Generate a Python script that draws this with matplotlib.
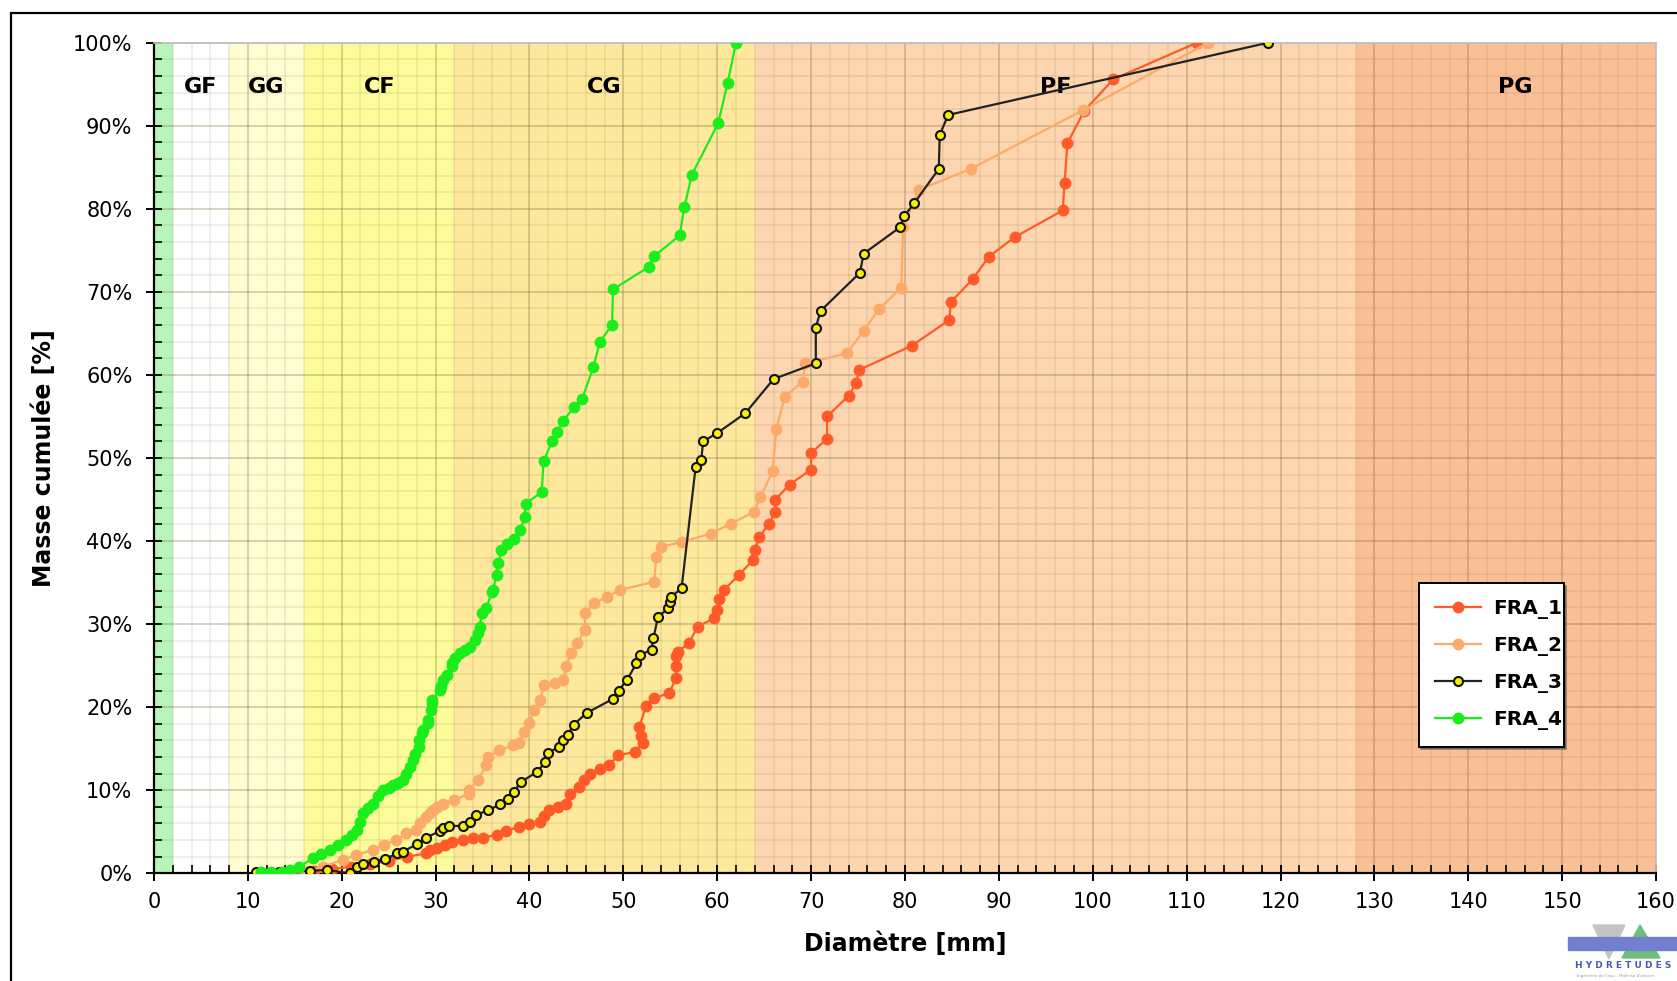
import matplotlib
matplotlib.use("Agg")
import matplotlib.pyplot as plt
import matplotlib.patches as mpatches
from matplotlib.ticker import MultipleLocator, FuncFormatter

# ---------------------------------------------------------------
# DATA  (diameter in mm, cumulated mass in %)
# ---------------------------------------------------------------
fra1_d = [15.6, 17.0, 19.0, 21.0, 23.0, 25.0, 27.0, 29.0, 29.4, 30.2, 31.0, 31.7, 32.9, 34.0,
          35.0, 36.5, 37.5, 38.9, 40.0, 41.1, 41.6, 42.1, 43.0, 43.9, 44.3, 45.3, 45.8, 46.4,
          47.5, 48.5, 49.4, 51.2, 52.1, 51.9, 51.7, 52.4, 53.3, 54.9, 55.6, 55.6, 55.6, 55.8,
          57.0, 57.9, 59.7, 60.0, 60.2, 60.7, 62.3, 63.8, 64.0, 64.5, 65.5, 66.2, 66.2, 67.7,
          70.0, 70.0, 71.7, 71.7, 74.0, 74.8, 75.1, 80.7, 84.7, 84.9, 87.2, 88.9, 91.7, 96.8,
          97.0, 97.3, 99.1, 102.2, 111.1]
fra1_m = [0.0, 0.3, 0.5, 0.8, 1.1, 1.5, 2.0, 2.4, 2.8, 3.0, 3.4, 3.8, 4.0, 4.2,
          4.3, 4.6, 5.1, 5.6, 5.9, 6.2, 6.9, 7.6, 8.0, 8.4, 9.6, 10.4, 11.2, 12.0,
          12.6, 13.0, 14.2, 14.6, 15.7, 16.5, 17.6, 20.1, 21.1, 21.7, 23.5, 25.0, 26.1, 26.7,
          27.7, 29.7, 30.7, 31.7, 33.0, 34.1, 35.9, 37.7, 38.9, 40.5, 42.1, 43.5, 45.0, 46.8,
          48.6, 50.6, 52.3, 55.0, 57.5, 59.0, 60.6, 63.5, 66.6, 68.8, 71.5, 74.2, 76.6, 79.8,
          83.1, 87.9, 91.8, 95.6, 100.0]

fra2_d = [16.2, 18.0, 20.1, 21.5, 23.3, 24.5, 25.8, 26.9, 27.9, 28.3, 29.0, 29.4, 29.7, 30.1,
          30.8, 32.0, 33.6, 33.6, 34.5, 35.4, 35.6, 36.8, 38.2, 38.9, 39.4, 40.0, 40.5, 41.1,
          41.6, 42.7, 43.6, 43.9, 44.4, 45.1, 45.9, 45.9, 46.9, 48.3, 49.6, 53.3, 53.5, 54.0,
          56.3, 59.3, 61.5, 63.9, 64.6, 65.9, 66.3, 67.2, 69.1, 69.4, 73.8, 75.6, 77.2, 79.6,
          79.8, 81.5, 87.0, 99.0, 112.3]
fra2_m = [0.2, 0.8, 1.6, 2.2, 2.8, 3.4, 4.0, 4.8, 5.2, 6.0, 6.8, 7.2, 7.6, 8.0,
          8.4, 8.8, 9.6, 10.0, 11.2, 13.0, 14.0, 14.8, 15.4, 15.7, 17.0, 18.1, 19.7, 20.9,
          22.7, 22.9, 23.3, 24.9, 26.5, 27.7, 29.3, 31.3, 32.5, 33.3, 34.1, 35.1, 38.1, 39.3,
          39.9, 40.9, 42.1, 43.5, 45.3, 48.4, 53.5, 57.4, 59.2, 61.4, 62.6, 65.3, 67.9, 70.5,
          77.8, 82.3, 84.8, 91.9, 100.0]

fra3_d = [10.9, 13.3, 16.6, 18.4, 20.9, 21.6, 22.3, 23.4, 24.6, 25.9, 26.5, 28.0, 29.0, 30.5,
          30.8, 31.4, 32.9, 33.7, 34.3, 35.6, 36.9, 37.7, 38.3, 39.1, 40.8, 41.7, 42.0, 43.1,
          43.6, 44.1, 44.7, 46.1, 48.9, 49.5, 50.4, 51.4, 51.8, 53.0, 53.2, 53.7, 54.8, 55.0,
          55.1, 56.2, 57.7, 58.3, 58.5, 60.0, 63.0, 66.0, 70.5, 70.5, 71.0, 75.2, 75.6, 79.5,
          79.9, 81.0, 83.6, 83.7, 84.6, 118.7]
fra3_m = [0.2, 0.2, 0.3, 0.4, 0.0, 0.8, 1.1, 1.4, 1.7, 2.4, 2.6, 3.5, 4.3, 5.1,
          5.4, 5.7, 5.7, 6.2, 7.0, 7.6, 8.3, 9.0, 9.8, 11.0, 12.2, 13.4, 14.5, 15.2,
          16.0, 16.7, 17.9, 19.3, 21.0, 22.0, 23.3, 25.3, 26.3, 26.9, 28.3, 30.9, 31.9, 32.7,
          33.3, 34.3, 48.9, 49.8, 52.0, 53.0, 55.4, 59.5, 61.4, 65.7, 67.7, 72.3, 74.6, 77.8,
          79.1, 80.7, 84.8, 88.9, 91.3, 100.0]

fra4_d = [11.4, 12.5, 13.6, 14.5, 15.5, 16.9, 17.8, 18.7, 19.6, 20.5, 21.1, 21.6, 22.0, 22.3,
          22.8, 23.3, 23.9, 24.4, 25.0, 25.5, 26.0, 26.5, 26.9, 27.3, 27.6, 27.8, 28.2, 28.2,
          28.5, 28.7, 29.2, 29.2, 29.5, 29.6, 29.6, 30.5, 30.6, 30.8, 31.2, 31.7, 31.7, 32.1,
          32.6, 33.1, 33.7, 34.2, 34.5, 34.7, 34.9, 35.4, 36.0, 36.1, 36.5, 36.7, 37.0, 37.6,
          38.3, 39.0, 39.5, 39.6, 41.3, 41.5, 42.4, 42.9, 43.6, 44.7, 45.6, 46.8, 47.5, 48.8,
          48.9, 52.7, 53.3, 56.0, 56.5, 57.3, 60.1, 61.1, 62.0]
fra4_m = [0.1, 0.2, 0.1, 0.4, 0.8, 1.8, 2.3, 2.8, 3.4, 4.0, 4.6, 5.2, 6.2, 7.2,
          7.8, 8.4, 9.3, 10.0, 10.3, 10.6, 10.9, 11.2, 12.0, 12.8, 13.6, 14.4, 15.2, 16.0,
          16.9, 17.3, 18.1, 18.5, 19.7, 20.5, 20.9, 22.1, 22.5, 23.3, 23.9, 24.9, 25.3, 25.9,
          26.5, 26.9, 27.3, 28.1, 28.9, 29.7, 31.3, 31.9, 33.9, 34.1, 35.9, 37.3, 38.9, 39.6,
          40.3, 41.3, 42.9, 44.5, 45.9, 49.6, 52.0, 53.1, 54.4, 56.1, 57.1, 60.9, 64.0, 66.0,
          70.3, 73.0, 74.3, 76.8, 80.2, 84.1, 90.3, 95.1, 100.0]

# grain size classes
class_names = ["", "GF", "GG", "CF", "CG", "PF", "PG"]
class_lo = [0, 2, 8, 16, 32, 64, 128]
class_hi = [2, 8, 16, 32, 64, 128, 256]
class_colors = ["#b9f5b9", "#ffffff", "#fffdd2", "#fdfc9b", "#fde89c", "#fdd5ae", "#fbbf96"]
class_label_x = [1, 5, 12, 24, 48, 96, 145]

# ---------------------------------------------------------------
# FIGURE
# ---------------------------------------------------------------
plt.rcParams["font.family"] = ["DejaVu Sans"]

fig = plt.figure(figsize=(16.77, 9.81), dpi=100)
ax = fig.add_axes([0.0918, 0.1098, 0.8957, 0.8467])

for name, lo, hi, col, lx in zip(class_names, class_lo, class_hi, class_colors, class_label_x):
    ax.axvspan(lo, hi, color=col, zorder=0, lw=0)
    if name:
        ax.text(lx, 94.7, name, ha="center", va="center", fontsize=16,
                fontweight="bold", zorder=2)

ax.plot(fra1_d, fra1_m, color="#ff5a28", lw=1.6, marker="o", ms=7.5,
        mec="#ff5a28", label="FRA_1", zorder=3)
ax.plot(fra2_d, fra2_m, color="#fcaa6a", lw=1.6, marker="o", ms=7.5,
        mec="#fcaa6a", label="FRA_2", zorder=3)
ax.plot(fra3_d, fra3_m, color="#222222", lw=1.6, marker="o", ms=6.5,
        mfc="#f5f000", mec="#111111", mew=1.5, label="FRA_3", zorder=4)
ax.plot(fra4_d, fra4_m, color="#1aee1a", lw=1.6, marker="o", ms=7.5,
        mec="#1aee1a", label="FRA_4", zorder=5)

ax.set_xlim(0, 160)
ax.set_ylim(0, 100)
ax.xaxis.set_major_locator(MultipleLocator(10))
ax.xaxis.set_minor_locator(MultipleLocator(2))
ax.yaxis.set_major_locator(MultipleLocator(10))
ax.yaxis.set_minor_locator(MultipleLocator(2))
ax.yaxis.set_major_formatter(FuncFormatter(lambda v, p: f"{v:.0f}%"))

ax.set_axisbelow("line")
ax.grid(which="minor", color="#8a7a50", alpha=0.15, lw=1.2)
ax.grid(which="major", color="#7a6a40", alpha=0.32, lw=1.3)

ax.tick_params(which="major", direction="inout", length=11, width=1.4,
               labelsize=15)
ax.tick_params(axis="y", which="major", pad=10)
ax.tick_params(axis="x", which="major", pad=8)
ax.tick_params(which="minor", direction="in", length=6, width=1.2)

for s in ["left", "bottom"]:
    ax.spines[s].set_linewidth(1.6)
for s in ["top", "right"]:
    ax.spines[s].set_color("#c0c0c0")
    ax.spines[s].set_linewidth(1.3)

ax.set_xlabel("Diamètre [mm]", fontsize=17, fontweight="bold", labelpad=14)
ax.set_ylabel("Masse cumulée [%]", fontsize=17, fontweight="bold", labelpad=12)

leg = ax.legend(loc="upper left", bbox_to_anchor=(0.842, 0.0, 0.0965, 0.3495),
                mode="expand", frameon=True, fancybox=False, shadow=True,
                edgecolor="black", facecolor="white", framealpha=1,
                prop={"weight": "bold", "size": 14.5}, handlelength=2.3,
                handletextpad=0.6, labelspacing=0.85, borderpad=0.8,
                borderaxespad=0, numpoints=1)
leg.get_frame().set_linewidth(1.4)
leg.set_zorder(10)

# outer chart border (top + left visible in the reference)
fig.patches.append(mpatches.Rectangle((11 / 1677, -0.2), 1.2, 1.2 - 13 / 981,
                                      transform=fig.transFigure, fill=False,
                                      edgecolor="black", lw=1.6))

# small company logo, bottom right (coordinates in pixels of the logo box)
lg = fig.add_axes([1565 / 1677, 0, 112 / 1677, 58 / 981])
lg.set_xlim(0, 112)
lg.set_ylim(0, 58)
lg.axis("off")
lg.add_patch(mpatches.Polygon([[28, 56], [60, 56], [44, 22]], color="#c4c4c4", zorder=1))
lg.add_patch(mpatches.Polygon([[57, 23], [95, 23], [75, 56]], color="#6fbf7a", zorder=1))
lg.add_patch(mpatches.Rectangle((3, 31), 109, 13, color="#7080cf", zorder=2))
lg.text(10, 15, "H Y D R E T U D E S", fontsize=6.5, fontweight="bold",
        color="#4a5ab0", va="center", ha="left")
lg.text(12, 5, "Ingénierie de l'eau - Maîtrise d'oeuvre", fontsize=3,
        color="#999999", va="center", ha="left")

fig.savefig("out.png", dpi=100)
